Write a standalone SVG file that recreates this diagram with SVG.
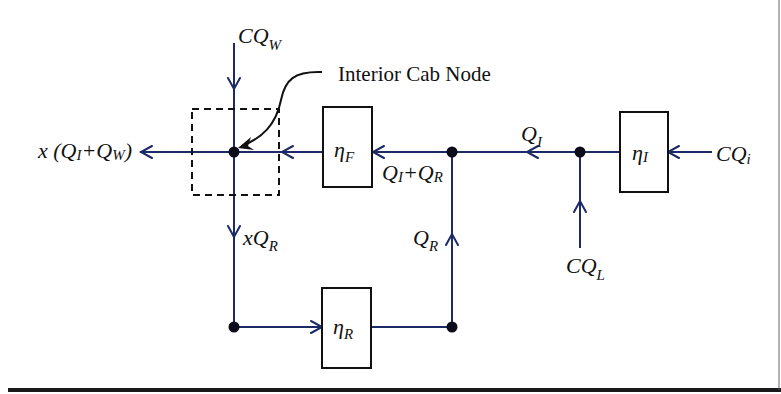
<svg xmlns="http://www.w3.org/2000/svg" width="781" height="394" viewBox="0 0 781 394">
<style>
.ln{stroke:#1c2a66;stroke-width:2;fill:none}
.ah{stroke:#1c2a66;stroke-width:2;fill:none;stroke-linecap:round;stroke-linejoin:miter}
.box{fill:#fff;stroke:#111;stroke-width:2}
.dot{fill:#0d0d1a}
.m{font-family:"Liberation Serif",serif;font-style:italic;font-size:22px;fill:#111}
.s{font-size:15px}
.t{font-family:"Liberation Serif",serif;font-size:21px;fill:#111}
</style>
<rect width="781" height="394" fill="#fff"/>
<line x1="8" y1="390" x2="781" y2="390" stroke="#1a1a1a" stroke-width="4"/>
<line x1="779" y1="0" x2="779" y2="390" stroke="#556" stroke-width="1.5" opacity="0.6"/>
<g id="connectors">
<path class="ln" d="M234,43 V327 H322"/>
<path class="ln" d="M140,152 H323"/>
<path class="ln" d="M372,152 H620"/>
<path class="ln" d="M668,152 H712"/>
<path class="ln" d="M580,152 V248"/>
<path class="ln" d="M371,327 H452 V152"/>
<path class="ah" d="M228,78 L234,89 L240,78"/>
<path class="ah" d="M228,226 L234,237 L240,226"/>
<path class="ah" d="M152,146 L141,152 L152,158"/>
<path class="ah" d="M293,146 L282,152 L293,158"/>
<path class="ah" d="M384,146 L373,152 L384,158"/>
<path class="ah" d="M538,146 L527,152 L538,158"/>
<path class="ah" d="M679,146 L668,152 L679,158"/>
<path class="ah" d="M574,212 L580,201 L586,212"/>
<path class="ah" d="M446,245 L452,234 L458,245"/>
<path class="ah" d="M311,321 L322,327 L311,333"/>
<path d="M322,72 C294,71 285,80 281,100 C276,125 262,138 242,146" stroke="#111" stroke-width="2" fill="none"/>
<path d="M238,148 L251,137 L248,146 L254,150 Z" fill="#111"/>
</g>
<g id="interior-cab-node">
<rect x="192" y="109" width="87" height="86" fill="none" stroke="#111" stroke-width="2" stroke-dasharray="7,5"/>
<circle class="dot" cx="234" cy="152" r="5.5"/>
<text class="t" x="338" y="81">Interior Cab Node</text>
</g>
<g id="node-j1"><circle class="dot" cx="452" cy="152" r="5.5"/></g>
<g id="node-j2"><circle class="dot" cx="580" cy="152" r="5.5"/></g>
<g id="node-j3"><circle class="dot" cx="234" cy="327" r="5.5"/></g>
<g id="node-j4"><circle class="dot" cx="452" cy="327" r="5.5"/></g>
<g id="eta-F">
<rect class="box" x="323" y="107" width="49" height="80"/>
<text class="m" x="334" y="157">η<tspan class="s" dy="5">F</tspan></text>
</g>
<g id="eta-I">
<rect class="box" x="620" y="112" width="48" height="80"/>
<text class="m" x="632" y="160">η<tspan class="s" dy="2">I</tspan></text>
</g>
<g id="eta-R">
<rect class="box" x="322" y="288" width="49" height="80"/>
<text class="m" x="333" y="334">η<tspan class="s" dy="5">R</tspan></text>
</g>
<g id="labels">
<text class="m" x="238" y="43">CQ<tspan class="s" dy="7">W</tspan></text>
<text class="m" x="38" y="158" font-size="21">x (Q<tspan class="s" dy="2">I</tspan><tspan dy="-2">+Q</tspan><tspan class="s" dy="2">W</tspan><tspan dy="-2">)</tspan></text>
<text class="m" x="521" y="141">Q<tspan class="s" dy="6">I</tspan></text>
<text class="m" x="382" y="180">Q<tspan class="s" dy="2">I</tspan><tspan dy="-2">+Q</tspan><tspan class="s" dy="2">R</tspan></text>
<text class="m" x="413" y="245">Q<tspan class="s" dy="6">R</tspan></text>
<text class="m" x="243" y="245">xQ<tspan class="s" dy="6">R</tspan></text>
<text class="m" x="566" y="273">CQ<tspan class="s" dy="7">L</tspan></text>
<text class="m" x="716" y="161">CQ<tspan class="s" dy="3">i</tspan></text>
</g>
</svg>
